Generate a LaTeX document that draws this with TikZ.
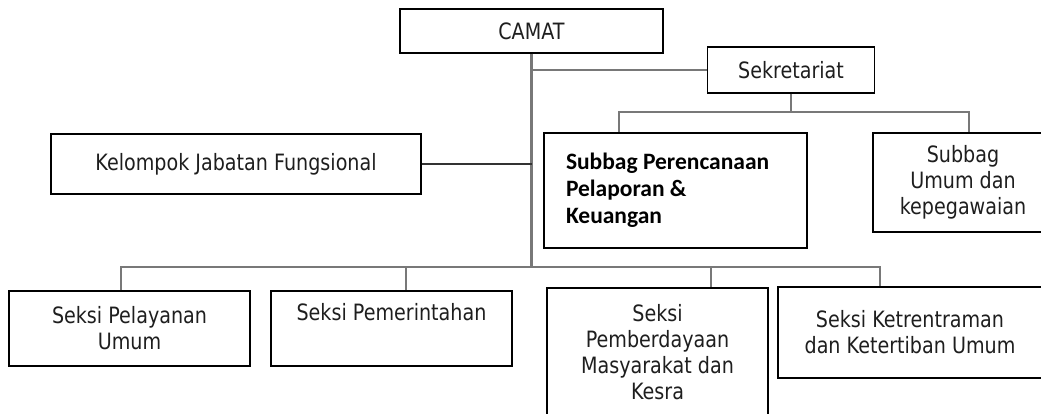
\documentclass[tikz,border=0pt]{standalone}
\usepackage{fontspec}
\setmainfont{DejaVu Sans}[FakeStretch=0.85]
\newfontfamily\calibri{Carlito}
\usepackage{tikz}
\definecolor{linegray}{RGB}{120,120,120}
\definecolor{inkgray}{RGB}{30,30,30}

\begin{document}
\begin{tikzpicture}[x=1pt,y=-1pt,
    unit/.style={draw=black,line width=1.3pt,align=center,inner sep=2pt,text=inkgray,
      font=\fontsize{22.5}{26}\selectfont},
    conn/.style={draw=linegray,line width=2pt},
  ]
  \useasboundingbox (0,0) rectangle (1041,413);

  % top
  \node[unit,minimum width=263pt,minimum height=44pt] (camat) at (531.5,31) {CAMAT};
  \node[unit,minimum width=167pt,minimum height=46pt] (sek) at (791,70) {Sekretariat};
  \node[unit,minimum width=370pt,minimum height=60pt] (kjf) at (236,164) {Kelompok Jabatan Fungsional};

  % sekretariat
  \node[unit,line width=2.2pt,align=flush left,minimum width=263pt,minimum height=115pt,text=black,
    text width=219pt,font=\calibri\bfseries\fontsize{23.5}{27}\selectfont]
    (perenc) at (675.5,190.5) {Subbag Perencanaan\\Pelaporan \&\\Keuangan};
  \node[unit,minimum width=180pt,minimum height=99pt] (umum) at (963,182.5) {Subbag\\Umum dan\\kepegawaian};

  % seksi
  \node[unit,minimum width=241pt,minimum height=75pt] (pel) at (129.5,328.5) {Seksi Pelayanan\\Umum};
  \node[unit,minimum width=241pt,minimum height=75pt] (pem) at (391.5,328.5) {Seksi Pemerintahan\\\strut};
  \node[unit,minimum width=221pt,minimum height=128pt] (pbd) at (657.5,352) {Seksi\\Pemberdayaan\\Masyarakat dan\\Kesra};
  \node[unit,minimum width=264pt,minimum height=91pt] (ket) at (910,332.5) {Seksi Ketrentraman\\dan Ketertiban Umum};

  \coordinate (sekL) at (619,112);
  \coordinate (sekR) at (969,112);
  \coordinate (busL) at (121,267);
  \coordinate (busR) at (880,267);

  \draw[conn,line width=2.5pt] (camat.south) -- (camat.south |- busL);
  \draw[conn] (camat.south |- sek.west) -- (sek.west);
  \draw[line width=1.2pt,draw=black!80] (kjf.east) -- (kjf.east -| camat.south);

  \draw[conn] (sek.south) -- (sek.south |- sekL);
  \draw[conn] (sekL |- perenc.north) -- (sekL) -- (sekR) -- (sekR |- umum.north);

  \draw[conn] (busL |- pel.north) -- (busL) -- (busR) -- (busR |- ket.north);
  \draw[conn] (406,267) -- (406,267 |- pem.north);
  \draw[conn] (711,267) -- (711,267 |- pbd.north);
\end{tikzpicture}
\end{document}
